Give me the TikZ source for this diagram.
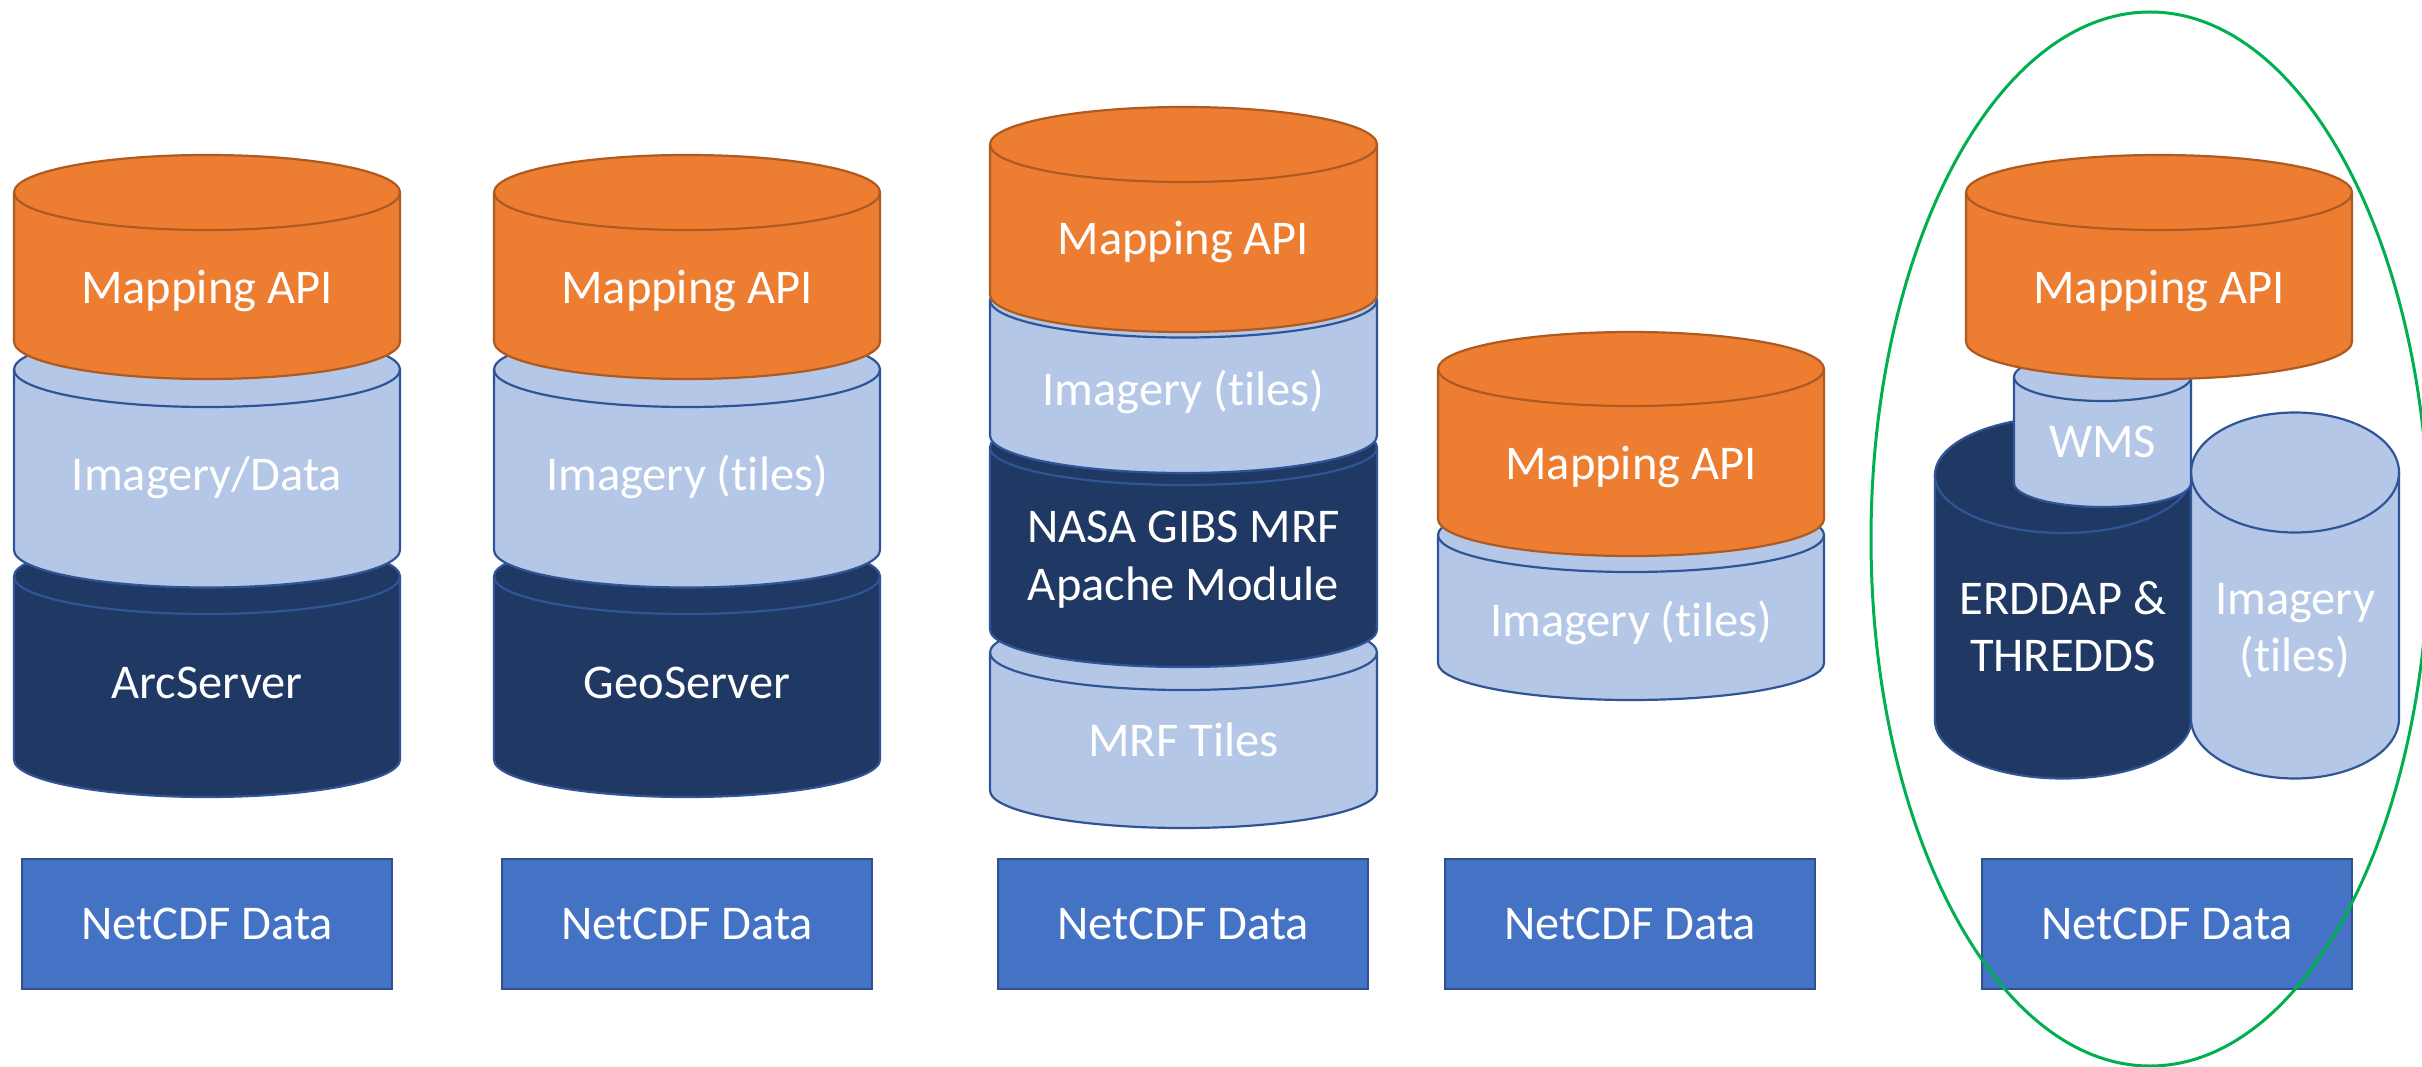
\documentclass[tikz,border=0pt]{standalone}
\usepackage{fontspec}
\setmainfont{Carlito}[Ligatures=NoCommon]
\definecolor{orfill}{HTML}{ED7D31}
\definecolor{orline}{HTML}{AE5A21}
\definecolor{lbfill}{HTML}{B4C7E7}
\definecolor{lbline}{HTML}{2F5597}
\definecolor{dkfill}{HTML}{203864}
\definecolor{dkline}{HTML}{2F5597}
\definecolor{boxfill}{HTML}{4472C4}
\definecolor{boxline}{HTML}{2F528F}
\definecolor{ringgreen}{HTML}{00B050}
\newcommand\cylshape[6]{%
  \path[#6] (#1-#4,#2) -- (#1-#4,#3)
    arc[start angle=180,end angle=0,x radius=#4,y radius=#5]
    -- (#1+#4,#2)
    arc[start angle=0,end angle=-180,x radius=#4,y radius=#5] -- cycle;
  \draw[#6,fill=none] (#1-#4,#2) arc[start angle=180,end angle=0,x radius=#4,y radius=#5];
}
\tikzset{
  orcyl/.style={fill=orfill,draw=orline,line width=2.2pt},
  lbcyl/.style={fill=lbfill,draw=lbline,line width=2.2pt},
  dkcyl/.style={fill=dkfill,draw=dkline,line width=2.2pt},
  lbl/.style={text=white,font=\fontsize{48.5}{58}\selectfont,inner sep=0pt,anchor=base},
  netbox/.style={fill=boxfill,draw=boxline,line width=2pt,minimum width=370pt,minimum height=130pt,
    inner sep=0pt,text=white,font=\fontsize{48.5}{58}\selectfont},
  ring/.style={draw=ringgreen,line width=3pt}
}
\begin{document}
\begin{tikzpicture}[x=1pt,y=-1pt]
\useasboundingbox[fill=white] (0,0) rectangle (2422,1067);

% ---- column 1 ----
\cylshape{207}{576.5}{759.5}{193}{37.5}{dkcyl}
\cylshape{207}{369.5}{550}{193}{37.5}{lbcyl}
\cylshape{207}{192.5}{341.5}{193}{37.5}{orcyl}
\node[lbl] (c1a) at (207,303) {Mapping API};
\node[lbl] (c1b) at (207,490) {Imagery/Data};
\node[lbl] (c1c) at (207,698) {ArcServer};
\node[netbox] (n1) at (207,924) {NetCDF Data};

% ---- column 2 ----
\cylshape{687}{576.5}{759.5}{193}{37.5}{dkcyl}
\cylshape{687}{369.5}{550}{193}{37.5}{lbcyl}
\cylshape{687}{192.5}{341.5}{193}{37.5}{orcyl}
\node[lbl] (c2a) at (687,303) {Mapping API};
\node[lbl] (c2b) at (687,490) {Imagery (tiles)};
\node[lbl] (c2c) at (687,698) {GeoServer};
\node[netbox] (n2) at (687,924) {NetCDF Data};

% ---- column 3 ----
\cylshape{1183.5}{652.5}{790.5}{193.5}{37.5}{lbcyl}
\cylshape{1183.5}{447.5}{629.5}{193.5}{37.5}{dkcyl}
\cylshape{1183.5}{300}{435.5}{193.5}{37.5}{lbcyl}
\cylshape{1183.5}{144.5}{294.5}{193.5}{37.5}{orcyl}
\node[lbl] (c3a) at (1183.5,255) {Mapping API};
\node[lbl] (c3b) at (1183.5,405) {Imagery (tiles)};
\node[lbl] (c3c) at (1183.5,542) {NASA GIBS MRF};
\node[lbl] (c3d) at (1183.5,600) {Apache Module};
\node[lbl] (c3e) at (1183.5,756) {MRF Tiles};
\node[netbox] (n3) at (1183,924) {NetCDF Data};

% ---- column 4 ----
\cylshape{1631}{535}{663}{193}{37}{lbcyl}
\cylshape{1631}{369}{519}{193}{37}{orcyl}
\node[lbl] (c4a) at (1631,479) {Mapping API};
\node[lbl] (c4b) at (1631,636) {Imagery (tiles)};
\node[netbox] (n4) at (1630,924) {NetCDF Data};

% ---- column 5 ----
\cylshape{2063}{475}{720.5}{128}{58}{dkcyl}
\cylshape{2295}{472.5}{718.5}{104}{60}{lbcyl}
\cylshape{2102.5}{377}{483}{88.5}{24}{lbcyl}
\cylshape{2159}{192.5}{341.5}{193}{37.5}{orcyl}
\node[lbl] (c5a) at (2159,303) {Mapping API};
\node[lbl] (c5b) at (2102.5,457) {WMS};
\node[lbl] (c5c) at (2063,614) {ERDDAP \&};
\node[lbl] (c5d) at (2063,671) {THREDDS};
\node[lbl] (c5e) at (2295,614) {Imagery};
\node[lbl] (c5f) at (2295,671) {(tiles)};
\node[netbox] (n5) at (2167,924) {NetCDF Data};

\draw[ring] (2150,539) ellipse[x radius=279,y radius=527];
\end{tikzpicture}
\end{document}
